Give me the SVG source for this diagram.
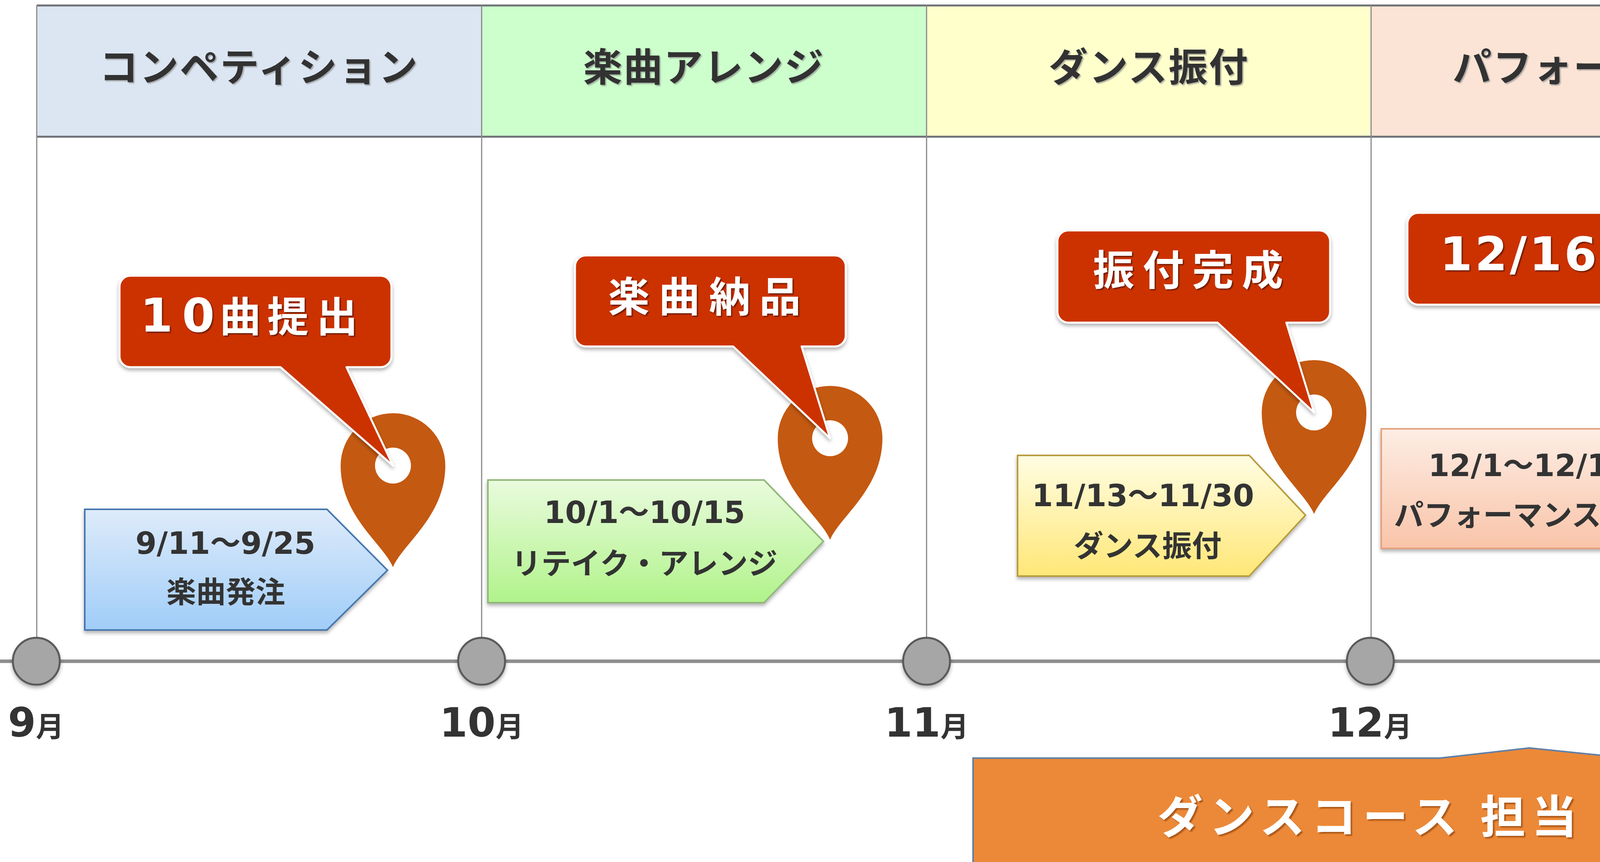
<svg xmlns="http://www.w3.org/2000/svg" width="4762" height="2207" viewBox="0 0 4762 2207">
<defs>
<style>
.hd{font-family:"Noto Sans CJK JP",sans-serif;font-weight:bold;font-size:100px;fill:#333;text-anchor:middle;letter-spacing:3px}
.co{font-family:"Noto Sans CJK JP",sans-serif;font-weight:bold;font-size:106px;fill:#fff}
.cd{font-family:"DejaVu Sans","Noto Sans CJK JP",sans-serif;font-size:120px}
.b1{font-family:"DejaVu Sans","Noto Sans CJK JP",sans-serif;font-weight:bold;font-size:78px;fill:#333;text-anchor:middle}
.b2{font-family:"Noto Sans CJK JP",sans-serif;font-weight:bold;font-size:76px;fill:#333;text-anchor:middle}
.mo{font-family:"DejaVu Sans","Noto Sans CJK JP",sans-serif;font-weight:bold;font-size:103px;fill:#333;text-anchor:middle}
.mk{font-family:"Noto Sans CJK JP",sans-serif;font-size:72px}
.grid{stroke:#8a8a8a;stroke-width:3}
.dot{fill:#a6a6a6;stroke:#5a5a5a;stroke-width:5}
.pin{fill:#c45911}
.hole{fill:#fff}
.call{fill:#cc3300;stroke:#fff;stroke-width:5;stroke-linejoin:round}
</style>
<filter id="hs" x="-5%" y="-30%" width="110%" height="160%"><feDropShadow dx="3" dy="3" stdDeviation="1.5" flood-color="#888" flood-opacity="0.7"/></filter>
<filter id="ts" x="-5%" y="-30%" width="110%" height="160%"><feDropShadow dx="3" dy="3" stdDeviation="1.5" flood-color="#000" flood-opacity="0.5"/></filter>
<filter id="sh" x="-5%" y="-10%" width="110%" height="125%"><feDropShadow dx="0" dy="6" stdDeviation="5" flood-color="#000" flood-opacity="0.3"/></filter>
<filter id="os" x="-5%" y="-20%" width="110%" height="140%"><feDropShadow dx="4" dy="4" stdDeviation="1.5" flood-color="#9a4a10" flood-opacity="0.8"/></filter>
<linearGradient id="gb" x1="0" y1="0" x2="0" y2="1"><stop offset="0" stop-color="#deebfa"/><stop offset="1" stop-color="#a0cdf8"/></linearGradient>
<linearGradient id="gg" x1="0" y1="0" x2="0" y2="1"><stop offset="0" stop-color="#e9fbdd"/><stop offset="1" stop-color="#b1f38b"/></linearGradient>
<linearGradient id="gy" x1="0" y1="0" x2="0" y2="1"><stop offset="0" stop-color="#fffde3"/><stop offset="1" stop-color="#ffe777"/></linearGradient>
<linearGradient id="gp" x1="0" y1="0" x2="0" y2="1"><stop offset="0" stop-color="#fdede4"/><stop offset="1" stop-color="#f9c4a9"/></linearGradient>
<path id="pinShape" d="M0,260 C-25,200 -134,130 -134,0 A134,134 0 1 1 134,0 C134,130 25,200 0,260 Z"/>
</defs>
<rect width="4762" height="2207" fill="#fff"/>

<g id="header">
<rect x="94" y="14" width="1139" height="336" fill="#dce6f2"/>
<rect x="1233" y="14" width="1139" height="336" fill="#ccffcc"/>
<rect x="2372" y="14" width="1139" height="336" fill="#ffffcc"/>
<rect x="3511" y="14" width="1136" height="336" fill="#fbe4d5"/>
<line x1="94" y1="14" x2="4647" y2="14" stroke="#6e7276" stroke-width="5"/>
<line x1="94" y1="350" x2="4647" y2="350" stroke="#6e7276" stroke-width="5"/>
<g id="h1"><text class="hd" x="663" y="208" filter="url(#hs)">コンペティション</text></g>
<g id="h2"><text class="hd" x="1802" y="208" filter="url(#hs)">楽曲アレンジ</text></g>
<g id="h3"><text class="hd" x="2941" y="208" filter="url(#hs)">ダンス振付</text></g>
<g id="h4"><text class="hd" x="4078" y="208" filter="url(#hs)">パフォーマンス</text></g>
</g>

<g id="grid">
<line class="grid" x1="94" y1="14" x2="94" y2="1693"/>
<line class="grid" x1="1233" y1="14" x2="1233" y2="1693"/>
<line class="grid" x1="2372" y1="14" x2="2372" y2="1693"/>
<line class="grid" x1="3510" y1="14" x2="3510" y2="1693"/>
<line class="grid" x1="4647" y1="14" x2="4647" y2="1693"/>
</g>

<g id="connectors">
<line x1="0" y1="1693" x2="4762" y2="1693" stroke="#8e8e8e" stroke-width="9"/>
</g>

<g id="ticks" filter="url(#sh)">
<circle class="dot" cx="93" cy="1693" r="60"/>
<circle class="dot" cx="1233" cy="1693" r="60"/>
<circle class="dot" cx="2372" cy="1693" r="60"/>
<circle class="dot" cx="3508" cy="1693" r="60"/>
<circle class="dot" cx="4647" cy="1693" r="60"/>
</g>

<g id="months">
<text class="mo" x="92" y="1886">9<tspan class="mk">月</tspan></text>
<text class="mo" x="1233" y="1886">10<tspan class="mk">月</tspan></text>
<text class="mo" x="2372" y="1886">11<tspan class="mk">月</tspan></text>
<text class="mo" x="3507" y="1886">12<tspan class="mk">月</tspan></text>
<text class="mo" x="4647" y="1886">1<tspan class="mk">月</tspan></text>
</g>

<g id="box1">
<path d="M217,1304 H837 L992,1460 L837,1613 H217 Z" fill="url(#gb)" stroke="#4477b0" stroke-width="4" filter="url(#sh)"/>
<text class="b1" x="577" y="1418">9/11〜9/25</text>
<text class="b2" x="578" y="1543">楽曲発注</text>
</g>
<g id="box2">
<path d="M1249,1229 H1956 L2108,1386 L1956,1543 H1249 Z" fill="url(#gg)" stroke="#90b878" stroke-width="4" filter="url(#sh)"/>
<text class="b1" x="1650" y="1339">10/1〜10/15</text>
<text class="b2" x="1650" y="1470">リテイク・アレンジ</text>
</g>
<g id="box3">
<path d="M2605,1166 H3198 L3342,1319 L3198,1475 H2605 Z" fill="url(#gy)" stroke="#b99b3b" stroke-width="4" filter="url(#sh)"/>
<text class="b1" x="2926" y="1296">11/13〜11/30</text>
<text class="b2" x="2938" y="1425">ダンス振付</text>
</g>
<g id="box4">
<path d="M3536,1098 H4244 L4418,1251 L4244,1404 H3536 Z" fill="url(#gp)" stroke="#e6a27c" stroke-width="4" filter="url(#sh)"/>
<text class="b1" x="3914" y="1219">12/1〜12/15</text>
<text class="b2" x="3910" y="1346">パフォーマンス稽古</text>
</g>

<g id="pin1"><use href="#pinShape" class="pin" transform="translate(1006,1192)"/><circle class="hole" cx="1006" cy="1192" r="46"/></g>
<g id="pin2"><use href="#pinShape" class="pin" transform="translate(2125,1122)"/><circle class="hole" cx="2125" cy="1122" r="46"/></g>
<g id="pin3"><use href="#pinShape" class="pin" transform="translate(3364,1056)"/><circle class="hole" cx="3364" cy="1056" r="46"/></g>
<g id="pin4"><use href="#pinShape" class="pin" transform="translate(4436,980)"/><circle class="hole" cx="4436" cy="980" r="46"/></g>

<g id="callout1">
<path class="call" filter="url(#sh)" d="M334,706 H974 A28,28 0 0 1 1002,734 V912 A28,28 0 0 1 974,940 H887 L1006,1192 L718,940 H334 A28,28 0 0 1 306,912 V734 A28,28 0 0 1 334,706 Z"/>
<text class="co" y="849" filter="url(#ts)"><tspan class="cd" x="359">1</tspan><tspan class="cd" x="466">0</tspan><tspan x="562">曲</tspan><tspan x="684">提</tspan><tspan x="810">出</tspan></text>
</g>
<g id="callout2">
<path class="call" filter="url(#sh)" d="M1500,654 H2137 A28,28 0 0 1 2165,682 V859 A28,28 0 0 1 2137,887 H2052 L2125,1122 L1877,887 H1500 A28,28 0 0 1 1472,859 V682 A28,28 0 0 1 1500,654 Z"/>
<text class="co" y="798" filter="url(#ts)"><tspan x="1557">楽</tspan><tspan x="1686">曲</tspan><tspan x="1815">納</tspan><tspan x="1944">品</tspan></text>
</g>
<g id="callout3">
<path class="call" filter="url(#sh)" d="M2735,590 H3377 A28,28 0 0 1 3405,618 V798 A28,28 0 0 1 3377,826 H3293 L3364,1056 L3117,826 H2735 A28,28 0 0 1 2707,798 V618 A28,28 0 0 1 2735,590 Z"/>
<text class="co" y="730" filter="url(#ts)"><tspan x="2798">振</tspan><tspan x="2925">付</tspan><tspan x="3052">完</tspan><tspan x="3179">成</tspan></text>
</g>
<g id="callout4">
<path class="call" filter="url(#sh)" d="M3631,545 H4434 A28,28 0 0 1 4462,573 V752 A28,28 0 0 1 4434,780 H4321 L4436,980 L4108,780 H3631 A28,28 0 0 1 3603,752 V573 A28,28 0 0 1 3631,545 Z"/>
<text class="co" y="692" filter="url(#ts)"><tspan class="cd" x="3686" letter-spacing="6">12/16</tspan><tspan x="4115"> </tspan><tspan x="4115">本</tspan><tspan x="4245">番</tspan></text>
</g>

<g id="dance-course">
<path d="M2491,1941 H3686 L3915,1915 L4170,1941 H4520 V2240 H2491 Z" fill="#ec8938" stroke="#5f80a8" stroke-width="4"/>
<line x1="4522" y1="1943" x2="4522" y2="2207" stroke="#1f3447" stroke-width="4"/>
<text x="3508" y="2133" font-family="Noto Sans CJK JP, sans-serif" font-weight="bold" font-size="116" fill="#fff" text-anchor="middle" letter-spacing="16" filter="url(#os)">ダンスコース 担当</text>
</g>
</svg>
